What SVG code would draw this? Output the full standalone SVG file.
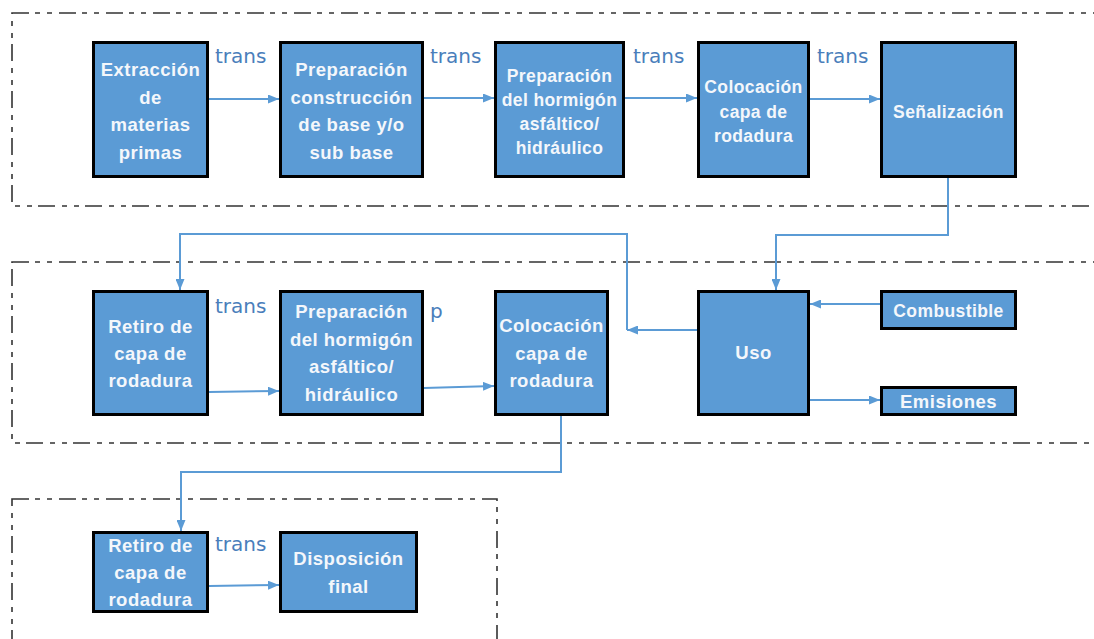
<svg xmlns="http://www.w3.org/2000/svg" width="1094" height="639" viewBox="0 0 1094 639">
<style>
.bg{fill:#ffffff}
.grp{fill:none;stroke:#333333;stroke-width:1.6;stroke-dasharray:17 6 5 7 5 7}
.box{fill:#5b9bd5;stroke:#000000;stroke-width:3}
.t{font-family:"Liberation Sans",Arial,sans-serif;font-weight:bold;font-size:18.5px;letter-spacing:0.5px;fill:#f4f7fb;text-anchor:middle}
.ts{font-size:17.5px;letter-spacing:0.4px}
.lbl{font-family:"DejaVu Sans",sans-serif;font-size:20px;fill:#4a7ebb}
.c{fill:none;stroke:#5b9bd5;stroke-width:2}
</style>
<defs>
<marker id="ah" viewBox="0 0 11 9" refX="11" refY="4.5" markerWidth="11" markerHeight="9" orient="auto" markerUnits="userSpaceOnUse">
<path d="M0,0 L11,4.5 L0,9 z" fill="#5b9bd5"/>
</marker>
</defs>
<rect class="bg" x="0" y="0" width="1094" height="639"/>
<g id="groups">
<rect class="grp" x="12" y="13" width="1100" height="193"/>
<rect class="grp" x="12" y="262" width="1100" height="181"/>
<rect class="grp" x="12" y="499" width="485" height="200"/>
</g>
<g id="connectors">
<path class="c" d="M209,99 H279" marker-end="url(#ah)"/>
<path class="c" d="M424,98 H494" marker-end="url(#ah)"/>
<path class="c" d="M625,98 H697" marker-end="url(#ah)"/>
<path class="c" d="M810,99 H880" marker-end="url(#ah)"/>
<path class="c" d="M948,178 V235 H776 V290" marker-end="url(#ah)"/>
<path class="c" d="M697,330 H627" marker-end="url(#ah)"/>
<path class="c" d="M627,330 V234 H180 V290" marker-end="url(#ah)"/>
<path class="c" d="M880,304 H810" marker-end="url(#ah)"/>
<path class="c" d="M810,400 H880" marker-end="url(#ah)"/>
<path class="c" d="M209,392 L279,391" marker-end="url(#ah)"/>
<path class="c" d="M424,388 L494,386" marker-end="url(#ah)"/>
<path class="c" d="M561,416 V472 H181 V531" marker-end="url(#ah)"/>
<path class="c" d="M209,586 L279,585" marker-end="url(#ah)"/>
<text class="lbl" x="215" y="63">trans</text>
<text class="lbl" x="430" y="63">trans</text>
<text class="lbl" x="633" y="63">trans</text>
<text class="lbl" x="817" y="63">trans</text>
<text class="lbl" x="215" y="313">trans</text>
<text class="lbl" x="430" y="318">p</text>
<text class="lbl" x="215" y="551">trans</text>
</g>
<g id="n1">
<rect class="box" x="93.5" y="42.5" width="114" height="134"/>
<text class="t" x="150.5" y="76">Extracción</text>
<text class="t" x="150.5" y="103.5">de</text>
<text class="t" x="150.5" y="131">materias</text>
<text class="t" x="150.5" y="158.5">primas</text>
</g>
<g id="n2">
<rect class="box" x="280.5" y="42.5" width="142" height="134"/>
<text class="t" x="351.5" y="76">Preparación</text>
<text class="t" x="351.5" y="103.5">construcción</text>
<text class="t" x="351.5" y="131">de base y/o</text>
<text class="t" x="351.5" y="158.5">sub base</text>
</g>
<g id="n3">
<rect class="box" x="495.5" y="42.5" width="128" height="134"/>
<text class="t ts" x="559.5" y="82">Preparación</text>
<text class="t ts" x="559.5" y="106">del hormigón</text>
<text class="t ts" x="559.5" y="130">asfáltico/</text>
<text class="t ts" x="559.5" y="154">hidráulico</text>
</g>
<g id="n4">
<rect class="box" x="698.5" y="42.5" width="110" height="134"/>
<text class="t ts" x="753.5" y="93">Colocación</text>
<text class="t ts" x="753.5" y="117.5">capa de</text>
<text class="t ts" x="753.5" y="142">rodadura</text>
</g>
<g id="n5">
<rect class="box" x="881.5" y="42.5" width="134" height="134"/>
<text class="t ts" x="948.5" y="118">Señalización</text>
</g>
<g id="n6">
<rect class="box" x="93.5" y="291.5" width="114" height="123"/>
<text class="t" x="150.5" y="333">Retiro de</text>
<text class="t" x="150.5" y="360">capa de</text>
<text class="t" x="150.5" y="387">rodadura</text>
</g>
<g id="n7">
<rect class="box" x="280.5" y="291.5" width="142" height="123"/>
<text class="t" x="351.5" y="318">Preparación</text>
<text class="t" x="351.5" y="345.5">del hormigón</text>
<text class="t" x="351.5" y="373">asfáltico/</text>
<text class="t" x="351.5" y="400.5">hidráulico</text>
</g>
<g id="n8">
<rect class="box" x="495.5" y="291.5" width="112" height="123"/>
<text class="t" x="551.5" y="332">Colocación</text>
<text class="t" x="551.5" y="359.5">capa de</text>
<text class="t" x="551.5" y="387">rodadura</text>
</g>
<g id="n9">
<rect class="box" x="698.5" y="291.5" width="110" height="123"/>
<text class="t" x="753.5" y="359">Uso</text>
</g>
<g id="n10">
<rect class="box" x="881.5" y="291.5" width="134" height="37"/>
<text class="t ts" x="948.5" y="317">Combustible</text>
</g>
<g id="n11">
<rect class="box" x="881.5" y="387.5" width="134" height="27"/>
<text class="t" x="948.5" y="408">Emisiones</text>
</g>
<g id="n12">
<rect class="box" x="93.5" y="532.5" width="114" height="79"/>
<text class="t" x="150.5" y="552">Retiro de</text>
<text class="t" x="150.5" y="578.5">capa de</text>
<text class="t" x="150.5" y="606">rodadura</text>
</g>
<g id="n13">
<rect class="box" x="280.5" y="532.5" width="136" height="79"/>
<text class="t" x="348.5" y="565">Disposición</text>
<text class="t" x="348.5" y="593">final</text>
</g>
</svg>
